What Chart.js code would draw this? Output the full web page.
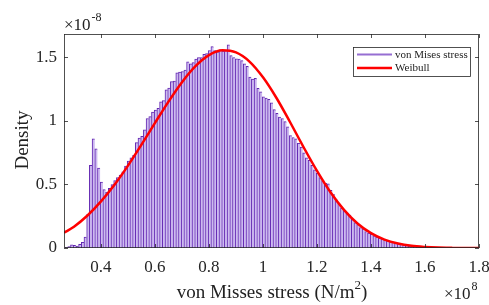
<!DOCTYPE html>
<html>
<head>
<meta charset="utf-8">
<script src="https://cdn.jsdelivr.net/npm/chart.js@4.4.1/dist/chart.umd.min.js"></script>
<style>
  html, body { margin: 0; padding: 0; background: #fff; }
</style>
</head>
<body>
<canvas id="chart" width="489" height="305"></canvas>
<script>
// stress in units of 1e8 N/m^2, density in units of 1e-8
const binStart = 0.272;   // centre of first histogram bin
const binWidth = 0.01;
const density = [
  0.005, 0.012, 0.025, 0.022, 0.015, 0.028, 0.045, 0.085, 0.265, 0.65,
  0.86, 0.78, 0.63, 0.52, 0.46, 0.44, 0.47, 0.50, 0.53, 0.555,
  0.575, 0.60, 0.645, 0.685, 0.71, 0.73, 0.83, 0.865, 0.88, 0.93,
  1.02, 1.035, 1.07, 1.085, 1.10, 1.15, 1.16, 1.245, 1.26, 1.31,
  1.315, 1.38, 1.385, 1.39, 1.40, 1.465, 1.45, 1.46, 1.488, 1.50,
  1.50, 1.525, 1.53, 1.555, 1.585, 1.555, 1.545, 1.56, 1.55, 1.555,
  1.60, 1.515, 1.50, 1.49, 1.488, 1.475, 1.45, 1.43, 1.345, 1.33,
  1.336, 1.257, 1.23, 1.19, 1.18, 1.17, 1.144, 1.09, 1.06, 1.03,
  1.02, 0.995, 0.955, 0.885, 0.87, 0.86, 0.825, 0.795, 0.75, 0.71,
  0.69, 0.65, 0.615, 0.59, 0.555, 0.53, 0.51, 0.505, 0.455, 0.42,
  0.38, 0.345, 0.315, 0.295, 0.275, 0.26, 0.225, 0.20, 0.185, 0.16,
  0.15, 0.13, 0.118, 0.108, 0.095, 0.085, 0.077, 0.07, 0.065, 0.058,
  0.05, 0.045, 0.04, 0.035, 0.03, 0.025, 0.02, 0.016, 0.012, 0.009,
  0.007, 0.005, 0.004, 0.003, 0.002, 0.002, 0.001
];

const weibullX = [0.263, 0.30, 0.35, 0.40, 0.45, 0.50, 0.55, 0.60, 0.65, 0.70,
  0.75, 0.80, 0.85, 0.90, 0.95, 1.00, 1.05, 1.10, 1.15, 1.20, 1.25, 1.30,
  1.35, 1.40, 1.45, 1.50, 1.55, 1.60, 1.65, 1.70, 1.75, 1.80];
const weibullY = [0.12, 0.168, 0.256, 0.367, 0.498, 0.649, 0.814, 0.985, 1.153, 1.306,
  1.432, 1.519, 1.557, 1.540, 1.468, 1.344, 1.181, 0.992, 0.795, 0.607, 0.439, 0.300,
  0.193, 0.117, 0.066, 0.035, 0.017, 0.008, 0.003, 0.001, 0, 0];

const xTicks = [0.4, 0.6, 0.8, 1, 1.2, 1.4, 1.6, 1.8];
const yTicks = [0, 0.5, 1, 1.5];

const serif = "'Liberation Serif', 'Times New Roman', serif";
const axisColor = '#262626';

// draws box, inward ticks, legend, axis titles and exponents
const decorations = {
  id: 'decorations',
  afterDraw(chart) {
    const { ctx, chartArea: a, scales: { x, y } } = chart;
    ctx.save();
    ctx.strokeStyle = axisColor;
    ctx.lineWidth = 0.8;
    ctx.strokeRect(a.left + 0.5, a.top + 0.5, a.right - a.left - 1, a.bottom - a.top - 1);
    ctx.beginPath();
    xTicks.forEach(v => {
      const px = Math.round(x.getPixelForValue(v)) + 0.5;
      ctx.moveTo(px, a.bottom); ctx.lineTo(px, a.bottom - 4);
      ctx.moveTo(px, a.top); ctx.lineTo(px, a.top + 4);
    });
    yTicks.forEach(v => {
      const py = Math.round(y.getPixelForValue(v)) + 0.5;
      ctx.moveTo(a.left, py); ctx.lineTo(a.left + 4, py);
      ctx.moveTo(a.right, py); ctx.lineTo(a.right - 4, py);
    });
    ctx.stroke();

    // legend
    ctx.fillStyle = '#fff';
    ctx.fillRect(353, 47, 117, 29);
    ctx.strokeRect(353.5, 47.5, 117, 29);
    ctx.lineWidth = 2;
    ctx.strokeStyle = 'rgb(150, 110, 210)';
    ctx.beginPath(); ctx.moveTo(357, 54.5); ctx.lineTo(392, 54.5); ctx.stroke();
    ctx.lineWidth = 2.5;
    ctx.strokeStyle = '#ff0000';
    ctx.beginPath(); ctx.moveTo(357, 68); ctx.lineTo(392, 68); ctx.stroke();
    ctx.fillStyle = '#222';
    ctx.font = '11px ' + serif;
    ctx.textBaseline = 'middle';
    ctx.textAlign = 'left';
    ctx.fillText('von Mises stress', 395, 55);
    ctx.fillText('Weibull', 395, 68.5);

    // axis titles
    ctx.textBaseline = 'alphabetic';
    const t1 = 'von Misses stress (N/m';
    ctx.font = '19px ' + serif;
    const w1 = ctx.measureText(t1).width;
    ctx.font = '13px ' + serif;
    const w2 = ctx.measureText('2').width;
    ctx.font = '19px ' + serif;
    const w3 = ctx.measureText(')').width;
    const sx = 272 - (w1 + w2 + w3) / 2;
    ctx.fillText(t1, sx, 298);
    ctx.font = '13px ' + serif;
    ctx.fillText('2', sx + w1, 289);
    ctx.font = '19px ' + serif;
    ctx.fillText(')', sx + w1 + w2, 298);

    ctx.save();
    ctx.translate(28, 140);
    ctx.rotate(-Math.PI / 2);
    ctx.textAlign = 'center';
    ctx.fillText('Density', 0, 0);
    ctx.restore();

    // exponents
    ctx.font = '17px ' + serif;
    ctx.fillText('\u00d710', 64, 30);
    const e1 = 64 + ctx.measureText('\u00d710').width;
    ctx.fillText('\u00d710', 444, 299);
    const e2 = 444 + ctx.measureText('\u00d710').width;
    ctx.font = '12px ' + serif;
    ctx.fillText('-8', e1 + 1, 21);
    ctx.fillText('8', e2 + 1, 290);
    ctx.restore();
  }
};

new Chart(document.getElementById('chart'), {
  type: 'bar',
  data: {
    datasets: [{
      type: 'line',
      label: 'Weibull',
      data: weibullX.map((v, i) => ({ x: v, y: weibullY[i] })),
      borderColor: '#ff0000',
      borderWidth: 2.5,
      pointRadius: 0,
      cubicInterpolationMode: 'monotone',
      order: 0
    }, {
      label: 'von Mises stress',
      data: density.map((v, i) => ({ x: +(binStart + i * binWidth).toFixed(3), y: v })),
      backgroundColor: 'rgb(205, 186, 240)',
      borderColor: 'rgb(98, 38, 178)',
      borderWidth: { top: 1, left: 1, right: 0, bottom: 0 },
      categoryPercentage: 1,
      barPercentage: 1,
      order: 1
    }]
  },
  options: {
    responsive: false,
    animation: false,
    layout: { padding: { left: 0, top: 34, right: 10, bottom: 0 } },
    plugins: { legend: { display: false }, tooltip: { enabled: false } },
    scales: {
      x: {
        type: 'linear',
        offset: false,
        min: 0.263,
        max: 1.8,
        grid: { display: false, drawTicks: false },
        border: { display: false },
        afterBuildTicks: s => { s.ticks = xTicks.map(v => ({ value: v })); },
        afterFit: s => { s.height = 57; s.paddingLeft = 0; s.paddingRight = 0; },
        ticks: {
          padding: 9,
          color: axisColor,
          font: { family: serif, size: 17 },
          maxRotation: 0,
          callback: v => String(v)
        }
      },
      y: {
        min: 0,
        max: 1.685,
        grid: { display: false, drawTicks: false },
        border: { display: false },
        afterBuildTicks: s => { s.ticks = yTicks.map(v => ({ value: v })); },
        afterFit: s => { s.width = 64; s.paddingTop = 0; s.paddingBottom = 0; },
        ticks: {
          padding: 7,
          color: axisColor,
          font: { family: serif, size: 17 },
          callback: v => String(v)
        }
      }
    }
  },
  plugins: [decorations]
});
</script>
</body>
</html>
